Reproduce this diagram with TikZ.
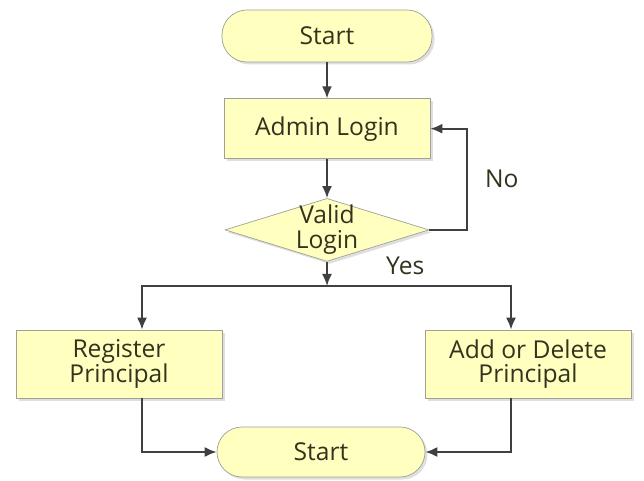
\documentclass[tikz,border=0pt]{standalone}
\usepackage{fontspec}
\setmainfont{Open Sans}
\usetikzlibrary{arrows.meta, positioning, shapes.geometric, shadows}

\definecolor{boxfill}{RGB}{255,255,192}
\definecolor{boxline}{RGB}{160,160,150}
\definecolor{txt}{RGB}{50,50,30}

\begin{document}
\begin{tikzpicture}[>={Latex[length=2.4mm,width=2mm]}]
        \tikzstyle{every node}=[font=\fontsize{14}{17}\selectfont,text=txt]
        \tikzstyle{base}=[fill=boxfill,draw=boxline,thin,drop shadow={opacity=0.25,shadow xshift=0.05,shadow yshift=-0.05},align=center]
        \tikzstyle{term}=[base,rectangle,rounded corners=5mm,minimum width=4.2cm,minimum height=1.04cm]
        \tikzstyle{proc}=[base,rectangle,minimum width=4.12cm,minimum height=1.2cm]
        \tikzstyle{decision}=[base,diamond,aspect=3.2,inner sep=-5pt,minimum width=4.08cm,minimum height=1.26cm]
        \tikzstyle{line}=[line width=1pt,draw=black!75]
        \useasboundingbox (0,0) rectangle (12.88,-9.62);
        \node[term] (start) at (6.54,-0.72) {Start};
        \node[proc,below=0.72cm of start] (admin) {Admin Login};
        \node[decision,below=0.78cm of admin] (decide) {Valid\\[-3pt]Login};
        \node[proc,minimum height=1.36cm] (reg) at (2.38,-7.28) {Register\\[-3pt]Principal};
        \node[proc,minimum height=1.36cm] (add) at (10.56,-7.28) {Add or Delete\\[-3pt]Principal};
        \node[term,minimum width=4.16cm,minimum height=1cm] (end) at (6.42,-9.04) {Start};
        \coordinate (split) at (decide.south |- 0,-5.72);
        \draw[line,->] (start)--(admin);
        \draw[line,->] (admin)--(decide);
        \draw[line,->] (decide.east)-- ++(0.76,0) |- node[pos=0.25,right=0.22cm]{No} (admin.east);
        \draw[line,->] (decide.south)-- node[pos=0.15,right=1.05cm]{Yes} (split);
        \draw[line,->] (split)-|([xshift=0.46cm]reg.north);
        \draw[line,->] (split)-|([xshift=-0.34cm]add.north);
        \draw[line,->] ([xshift=0.46cm]reg.south)|-(end);
        \draw[line,->] ([xshift=-0.34cm]add.south)|-(end);
    \end{tikzpicture}
\end{document}
